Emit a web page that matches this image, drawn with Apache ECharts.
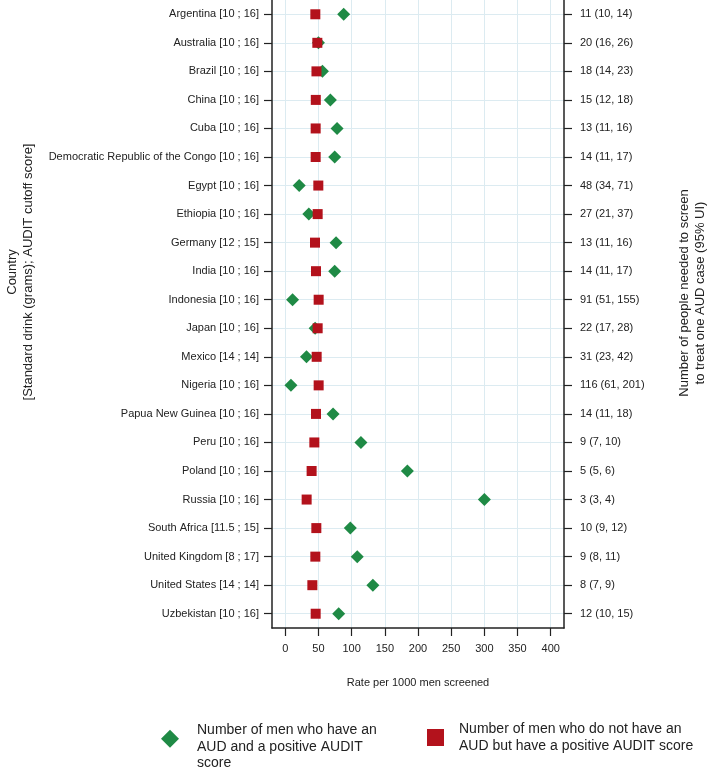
<!DOCTYPE html>
<html lang="en">
<head>
    <meta charset="UTF-8">
    <title>AUDIT screening</title>
    <style>
        * { padding: 0; margin: 0; }
        html, body { width: 100%; height: 100%; background: #fff; }
        #chart { width: 709px; height: 768px; }
    </style>
</head>
<body>
    <div id="chart"></div>
    <script src="https://cdn.jsdelivr.net/npm/echarts@6/dist/echarts.min.js"></script>
    <script type="text/javascript">
        // data
        const countries = ['Argentina', 'Australia', 'Brazil', 'China', 'Cuba', 'Democratic Republic of the Congo',
            'Egypt', 'Ethiopia', 'Germany', 'India', 'Indonesia', 'Japan', 'Mexico', 'Nigeria',
            'Papua New Guinea', 'Peru', 'Poland', 'Russia', 'South Africa', 'United Kingdom',
            'United States', 'Uzbekistan'];
        const cutoffs = ['[10 ; 16]', '[10 ; 16]', '[10 ; 16]', '[10 ; 16]', '[10 ; 16]', '[10 ; 16]',
            '[10 ; 16]', '[10 ; 16]', '[12 ; 15]', '[10 ; 16]', '[10 ; 16]', '[10 ; 16]', '[14 ; 14]', '[10 ; 16]',
            '[10 ; 16]', '[10 ; 16]', '[10 ; 16]', '[10 ; 16]', '[11.5 ; 15]', '[8 ; 17]',
            '[14 ; 14]', '[10 ; 16]'];
        const nnsLabels = ['11 (10, 14)', '20 (16, 26)', '18 (14, 23)', '15 (12, 18)', '13 (11, 16)', '14 (11, 17)',
            '48 (34, 71)', '27 (21, 37)', '13 (11, 16)', '14 (11, 17)', '91 (51, 155)', '22 (17, 28)', '31 (23, 42)',
            '116 (61, 201)', '14 (11, 18)', '9 (7, 10)', '5 (5, 6)', '3 (3, 4)', '10 (9, 12)', '9 (8, 11)',
            '8 (7, 9)', '12 (10, 15)'];
        // men with AUD and positive AUDIT (green diamonds)
        const audPositive = [88, 50, 56, 68, 78, 74.5, 21, 35.5, 76.5, 74.5, 11, 45, 32, 8.5,
            72, 114, 184, 300, 98, 108.5, 132, 80.5];
        // men without AUD but positive AUDIT (red squares)
        const noAudPositive = [45.3, 48.3, 47, 46, 45.8, 45.8, 49.8, 48.8, 44.8, 46.3, 50.3, 48.8, 47.3, 50.3,
            46.3, 43.8, 39.7, 32.2, 46.8, 45.3, 40.8, 45.8];
        const xTicks = [0, 50, 100, 150, 200, 250, 300, 350, 400];

        const seriesNames = [
            'Number of men who have an AUD and a positive AUDIT score',
            'Number of men who do not have an AUD but have a positive AUDIT score'
        ];
        const legendText = {};
        legendText[seriesNames[0]] = 'Number of men who have an\nAUD and a positive AUDIT\nscore';
        legendText[seriesNames[1]] = 'Number of men who do not have an\nAUD but have a positive AUDIT score';

        const GREEN = '#1f8a45';
        const RED = '#b3121c';
        const GRIDLINE = '#dcebf1';
        const AXIS = '#222';
        const FONT = 'Liberation Sans, Arial, sans-serif';

        const yLabels = countries.map((c, i) => c + ' ' + cutoffs[i]);

        const chart = echarts.init(document.getElementById('chart'));
        const option = {
            backgroundColor: '#fff',
            animation: false,
            textStyle: { fontFamily: FONT },
            grid: { left: 272, right: 145, top: 0, bottom: 140 },
            xAxis: {
                type: 'value',
                min: -20,
                max: 420,
                splitNumber: 9,
                name: 'Rate per 1000 men screened',
                nameLocation: 'middle',
                nameGap: 49,
                nameTextStyle: { color: '#222', fontSize: 11, fontFamily: FONT },
                axisLine: { show: true, lineStyle: { color: AXIS, width: 1.5 } },
                axisTick: { show: true, length: 8, customValues: xTicks, lineStyle: { color: AXIS, width: 1.2 } },
                axisLabel: { customValues: xTicks, margin: 15, color: '#222', fontSize: 11, fontFamily: FONT },
                splitLine: { show: true, lineStyle: { color: GRIDLINE, width: 1 } }
            },
            yAxis: [{
                type: 'category',
                data: yLabels,
                inverse: true,
                position: 'left',
                axisLine: { show: true, onZero: false, lineStyle: { color: AXIS, width: 1.5 } },
                axisTick: { show: true, alignWithLabel: true, length: 8, lineStyle: { color: AXIS, width: 1.2 } },
                axisLabel: { margin: 13, color: '#222', fontSize: 11, fontFamily: FONT, interval: 0 },
                splitLine: { show: true, alignWithLabel: true, lineStyle: { color: GRIDLINE, width: 1 } }
            }, {
                type: 'category',
                data: nnsLabels,
                inverse: true,
                position: 'right',
                axisLine: { show: true, onZero: false, lineStyle: { color: AXIS, width: 1.5 } },
                axisTick: { show: true, alignWithLabel: true, length: 8, lineStyle: { color: AXIS, width: 1.2 } },
                axisLabel: { margin: 16, color: '#222', fontSize: 11, fontFamily: FONT, interval: 0 },
                splitLine: { show: false }
            }],
            legend: [{
                data: [{
                    name: seriesNames[0],
                    // diamond in the top of a taller box, so the text sits lower than the icon
                    icon: 'path://M5,0L10,5L5,10L0,5Z M0,18.9'
                }],
                left: 156,
                top: 716,
                padding: 5,
                itemWidth: 18,
                itemHeight: 34,
                formatter: name => legendText[name],
                textStyle: { fontSize: 14, lineHeight: 16.5, color: '#222', fontFamily: FONT, padding: [2, 0, 0, 13] }
            }, {
                data: [seriesNames[1]],
                left: 422,
                top: 716,
                padding: 5,
                itemWidth: 17,
                itemHeight: 17,
                formatter: name => legendText[name],
                textStyle: { fontSize: 14, lineHeight: 16.5, color: '#222', fontFamily: FONT, padding: [0, 0, 0, 10] }
            }],
            graphic: [{
                type: 'text',
                x: 20,
                y: 272,
                rotation: Math.PI / 2,
                style: {
                    text: 'Country\n[Standard drink (grams); AUDIT cutoff score]',
                    fill: '#222',
                    font: '13px ' + FONT,
                    align: 'center',
                    verticalAlign: 'middle',
                    lineHeight: 16
                }
            }, {
                type: 'text',
                x: 692,
                y: 293,
                rotation: Math.PI / 2,
                style: {
                    text: 'Number of people needed to screen\nto treat one AUD case (95% UI)',
                    fill: '#222',
                    font: '13px ' + FONT,
                    align: 'center',
                    verticalAlign: 'middle',
                    lineHeight: 16
                }
            }],
            series: [{
                name: seriesNames[0],
                type: 'scatter',
                symbol: 'diamond',
                symbolSize: 13,
                itemStyle: { color: GREEN, opacity: 1 },
                data: audPositive.map((v, i) => [v, i])
            }, {
                name: seriesNames[1],
                type: 'scatter',
                symbol: 'rect',
                symbolSize: 10,
                itemStyle: { color: RED, opacity: 1 },
                data: noAudPositive.map((v, i) => [v, i])
            }]
        };
        chart.setOption(option);
    </script>
</body>
</html>
